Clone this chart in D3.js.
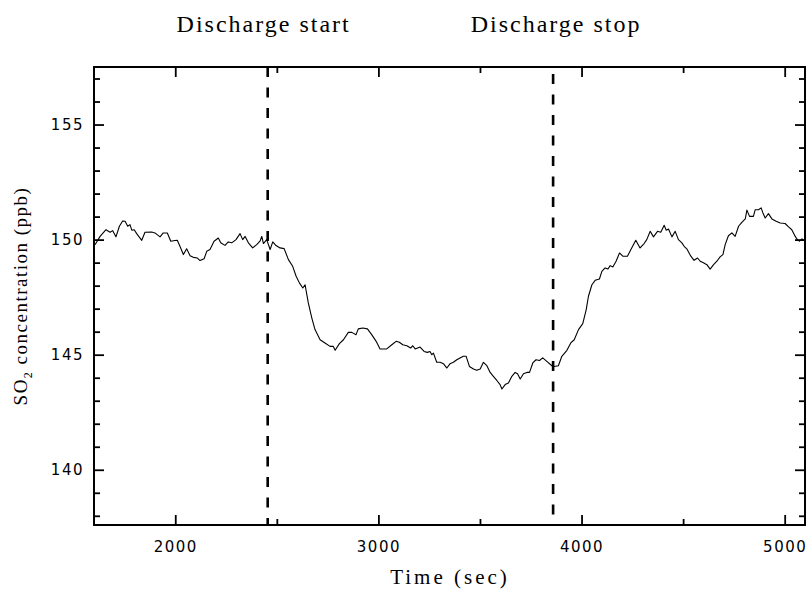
<!DOCTYPE html>
<html>
<head>
<meta charset="utf-8">
<script src="https://cdn.jsdelivr.net/npm/d3@7"></script>
<style>
  html, body { margin: 0; padding: 0; background: #fff; }
  svg { display: block; }
</style>
</head>
<body>
<svg id="chart" width="808" height="596"></svg>
<script>
// ---- data ----
const timeSec = [1605,1630,1659,1679,1692,1708,1725,1741,1753,1766,1777,1786,1798,1810,1835,1851,1884,1900,1925,1941,1961,1978,1999,2010,2023,2040,2056,2073,2089,2109,2122,2142,2155,2171,2191,2212,2224,2245,2261,2278,2299,2319,2332,2344,2360,2381,2401,2417,2426,2434,2450,2467,2480,2496,2516,2536,2557,2578,2595,2611,2628,2639,2655,2672,2688,2713,2737,2762,2778,2787,2808,2828,2852,2869,2890,2901,2923,2946,2967,2989,3008,3041,3066,3087,3103,3120,3140,3159,3169,3181,3205,3225,3241,3254,3263,3271,3287,3304,3320,3337,3353,3369,3386,3402,3418,3432,3448,3468,3484,3501,3517,3534,3550,3566,3583,3599,3608,3624,3640,3657,3673,3685,3698,3714,3731,3744,3760,3776,3793,3809,3829,3854,3865,3886,3903,3928,3947,3964,3985,4006,4023,4034,4051,4067,4088,4100,4116,4130,4141,4154,4170,4187,4203,4226,4243,4267,4288,4308,4321,4338,4354,4374,4390,4407,4417,4428,4445,4461,4477,4494,4505,4518,4538,4554,4571,4584,4600,4617,4633,4650,4666,4682,4696,4707,4723,4740,4756,4773,4789,4806,4814,4827,4846,4855,4871,4884,4893,4904,4920,4937,4958,4978,5002,5019,5035,5052,5060,5073,5085,5100];
const so2Ppb = [149.78,150.14,150.43,150.32,150.39,150.12,150.58,150.81,150.80,150.58,150.65,150.41,150.43,150.26,149.97,150.32,150.33,150.29,150.12,150.29,150.29,149.93,149.96,149.97,149.71,149.35,149.60,149.30,149.23,149.20,149.09,149.17,149.49,149.57,149.93,150.07,149.86,149.75,149.90,149.86,150.00,150.26,150.00,150.14,149.86,149.64,149.78,149.93,150.14,149.83,150.00,149.57,149.90,149.74,149.64,149.61,149.13,148.84,148.41,148.12,147.90,148.04,147.25,146.60,146.09,145.65,145.51,145.36,145.36,145.19,145.48,145.65,145.97,145.97,145.87,146.12,146.16,146.12,145.87,145.58,145.25,145.25,145.43,145.58,145.54,145.43,145.39,145.29,145.39,145.25,145.33,145.14,145.10,145.14,145.00,145.07,144.67,144.67,144.61,144.42,144.61,144.67,144.78,144.86,144.93,144.93,144.49,144.38,144.32,144.38,144.67,144.52,144.23,144.06,143.88,143.70,143.51,143.70,143.77,144.06,144.23,144.17,143.94,144.17,144.23,144.23,144.64,144.78,144.75,144.86,144.71,144.52,144.49,144.52,144.93,145.19,145.51,145.65,146.09,146.35,146.96,147.54,148.04,148.23,148.29,148.62,148.77,148.72,148.87,148.81,149.06,149.42,149.28,149.28,149.57,149.97,149.64,149.83,150.00,150.36,150.12,150.36,150.32,150.62,150.41,150.46,150.12,150.36,150.00,149.86,149.71,149.60,149.28,149.10,149.20,149.06,148.99,148.91,148.72,148.91,149.06,149.25,149.35,149.78,150.17,150.29,150.14,150.58,150.75,150.90,151.28,151.01,151.01,151.30,151.30,151.38,151.16,150.94,151.13,150.90,150.80,150.72,150.70,150.55,150.43,150.14,150.03,149.93,150.03,149.95];
const xTicks = [2000, 3000, 4000, 5000];
const xMinorTicks = [2500, 3500, 4500];
const yTicks = [140, 145, 150, 155];
const yMinorTicks = [138,139,141,142,143,144,146,147,148,149,151,152,153,154,156,157];
const markerTimes = [2455, 3860];
const markerLabels = ["Discharge start", "Discharge stop"];
const xDomain = [1600, 5100];
const yDomain = [137.6, 157.5];

// ---- layout ----
const L = 94, R = 805, T = 67, B = 525;
const svg = d3.select("#chart");
const x = d3.scaleLinear().domain(xDomain).range([L, R]);
const y = d3.scaleLinear().domain(yDomain).range([B, T]);

const tickFont = "'DejaVu Sans', sans-serif";
const serif = "'Liberation Serif', 'Times New Roman', serif";

// line
const data = timeSec.map((t, i) => ({t, v: so2Ppb[i]}));
svg.append("path")
  .datum(data)
  .attr("fill", "none")
  .attr("stroke", "#000")
  .attr("stroke-width", 1.1)
  .attr("stroke-linejoin", "round")
  .attr("d", d3.line().x(d => x(d.t)).y(d => y(d.v)));

// dashed markers
const dashOffsets = [0, 13.5];
svg.selectAll(".marker").data(markerTimes).enter().append("line")
  .attr("x1", d => x(d)).attr("x2", d => x(d))
  .attr("y1", T).attr("y2", B)
  .attr("stroke", "#000").attr("stroke-width", 2.6)
  .attr("stroke-dasharray", "10,10.5")
  .attr("stroke-dashoffset", (d, i) => dashOffsets[i]);

// axes with inward ticks on all four sides
function addAxis(axisGen, transform, showLabels) {
  const g = svg.append("g").attr("transform", transform).call(axisGen);
  g.select(".domain").remove();
  g.selectAll("line").attr("stroke", "#000").attr("stroke-width", 1.8);
  if (!showLabels) g.selectAll("text").remove();
  return g;
}
const majorLen = 10, minorLen = 6;
// bottom
const gb = addAxis(d3.axisBottom(x).tickValues(xTicks).tickSize(-majorLen).tickPadding(16).tickFormat(d3.format("d")), `translate(0,${B})`, true);
gb.selectAll("text").attr("font-family", tickFont).attr("font-size", 15).attr("letter-spacing", "1.5px").attr("fill", "#000");
addAxis(d3.axisBottom(x).tickValues(xMinorTicks).tickSize(-minorLen), `translate(0,${B})`, false);
// top
addAxis(d3.axisTop(x).tickValues(xTicks).tickSize(-majorLen), `translate(0,${T})`, false);
addAxis(d3.axisTop(x).tickValues(xMinorTicks).tickSize(-minorLen), `translate(0,${T})`, false);
// left
const gl = addAxis(d3.axisLeft(y).tickValues(yTicks).tickSize(-majorLen).tickPadding(10).tickFormat(d3.format("d")), `translate(${L},0)`, true);
gl.selectAll("text").attr("font-family", tickFont).attr("font-size", 15).attr("letter-spacing", "1.5px").attr("fill", "#000");
addAxis(d3.axisLeft(y).tickValues(yMinorTicks).tickSize(-minorLen), `translate(${L},0)`, false);
// right
addAxis(d3.axisRight(y).tickValues(yTicks).tickSize(-majorLen), `translate(${R},0)`, false);
addAxis(d3.axisRight(y).tickValues(yMinorTicks).tickSize(-minorLen), `translate(${R},0)`, false);

// frame
svg.append("rect").attr("x", L).attr("y", T).attr("width", R - L).attr("height", B - T)
  .attr("fill", "none").attr("stroke", "#000").attr("stroke-width", 2);

// axis titles
svg.append("text").attr("x", 450).attr("y", 584)
  .attr("text-anchor", "middle").attr("font-family", serif).attr("font-size", 21)
  .attr("letter-spacing", "3px")
  .text("Time (sec)");
const yt = svg.append("text")
  .attr("transform", `translate(27,${(T + B) / 2}) rotate(-90)`)
  .attr("text-anchor", "middle").attr("font-family", serif).attr("font-size", 19)
  .attr("letter-spacing", "1.5px");
yt.append("tspan").text("SO");
yt.append("tspan").attr("font-size", 12).attr("dy", 5).text("2");
yt.append("tspan").attr("dy", -5).text(" concentration (ppb)");

// marker labels
const labelDx = [-4, 3];
svg.selectAll(".mlabel").data(markerTimes).enter().append("text")
  .attr("x", (d, i) => x(d) + labelDx[i]).attr("y", 32)
  .attr("text-anchor", "middle").attr("font-family", serif).attr("font-size", 24)
  .attr("letter-spacing", "2px")
  .text((d, i) => markerLabels[i]);
</script>
</body>
</html>
